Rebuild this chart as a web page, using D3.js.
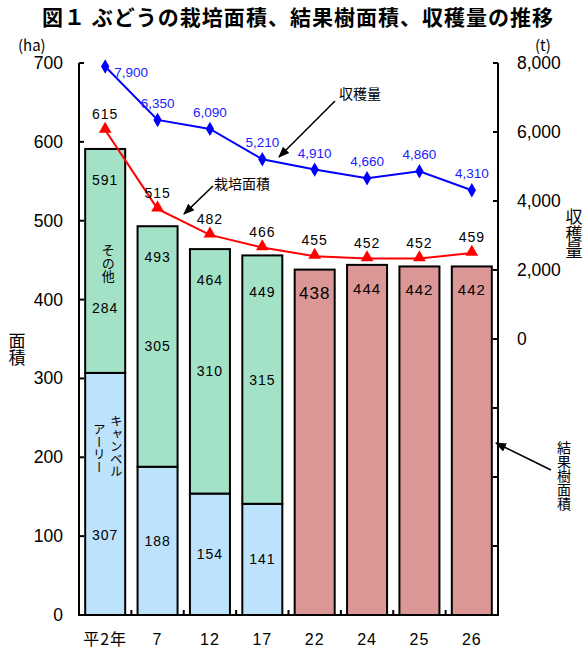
<!DOCTYPE html>
<html><head><meta charset="utf-8">
<script src="https://cdn.jsdelivr.net/npm/d3@7"></script>
<style>
body{margin:0;background:#fff;}
svg{display:block;}
text{font-family:"Liberation Sans",Arial,"Noto Sans CJK JP",sans-serif;}
.jp{font-family:"Noto Sans CJK JP",sans-serif;}
</style></head>
<body>
<script>
const categories = ["平2年","7","12","17","22","24","25","26"];
const campbell   = [307,188,154,141,null,null,null,null];
const others     = [284,305,310,315,null,null,null,null];
const totalStack = [591,493,464,449,null,null,null,null];
const bearing    = [null,null,null,null,438,444,442,442];
const cultivated = [615,515,482,466,455,452,452,459];
const harvest    = [7900,6350,6090,5210,4910,4660,4860,4310];
const leftTicks  = [0,100,200,300,400,500,600,700];
const rightTicks = [-6000,-4000,-2000,0,2000,4000,6000,8000];

const W=588,H=653;
const svg=d3.select("body").append("svg").attr("width",W).attr("height",H);
const L=79,R=498,T=63,B=615;
const x=d3.scaleBand().domain(categories).range([L,R]).paddingInner(0.236).paddingOuter(0.118);
const yL=d3.scaleLinear().domain([0,700]).range([B,T]);
const yR=d3.scaleLinear().domain([-8000,8000]).range([B,T]);
const cx=c=>x(c)+x.bandwidth()/2;

const cBlue="#BDE2FB",cGreen="#A3E2C6",cPink="#DB9796";

// title
svg.append("text").attr("class","jp").attr("x",42).attr("y",25).attr("text-anchor","start")
  .attr("font-size",21).attr("font-weight","bold").attr("textLength",511).attr("lengthAdjust","spacing")
  .text("図１  ぶどうの栽培面積、結果樹面積、収穫量の推移");

// bars
const g=svg.append("g");
categories.forEach((c,i)=>{
  if(campbell[i]!=null){
    g.append("rect").attr("x",x(c)).attr("width",x.bandwidth())
      .attr("y",yL(campbell[i])).attr("height",yL(0)-yL(campbell[i]))
      .attr("fill",cBlue).attr("stroke","#000").attr("stroke-width",2);
    g.append("rect").attr("x",x(c)).attr("width",x.bandwidth())
      .attr("y",yL(campbell[i]+others[i])).attr("height",yL(campbell[i])-yL(campbell[i]+others[i]))
      .attr("fill",cGreen).attr("stroke","#000").attr("stroke-width",2);
  } else {
    g.append("rect").attr("x",x(c)).attr("width",x.bandwidth())
      .attr("y",yL(bearing[i])).attr("height",yL(0)-yL(bearing[i]))
      .attr("fill",cPink).attr("stroke","#000").attr("stroke-width",2);
  }
});

// bar labels
const lab=(xx,yy,t,fs)=>svg.append("text").attr("x",xx).attr("y",yy).attr("text-anchor","middle")
  .attr("font-size",fs||14).attr("letter-spacing",1).text(t);
categories.forEach((c,i)=>{
  if(campbell[i]!=null){
    lab(cx(c),yL(totalStack[i])+36,totalStack[i]);
    if(i===0){
      lab(cx(c),yL(campbell[i]+others[i]*0.29)+5,others[i]);
      lab(cx(c),yL(campbell[i]*0.33)+5,campbell[i]);
    } else {
      lab(cx(c),yL(campbell[i]+others[i]/2)+5,others[i]);
      lab(cx(c),yL(campbell[i]/2)+5,campbell[i]);
    }
  } else {
    lab(cx(c),yL(bearing[i])+29,bearing[i],i===4?17:15);
  }
});
// vertical texts
const vtext=(xx,yy,t,fs)=>svg.append("text").attr("class","jp").attr("x",xx).attr("y",yy)
  .attr("font-size",fs).style("writing-mode","vertical-rl").style("text-orientation","upright").text(t);
vtext(cx(categories[0])+3,244,"その他",13);
vtext(cx(categories[0])+11,415,"キャンベル",12.5);
vtext(cx(categories[0])-6,423,"アーリー",12.5);

// axes
svg.append("line").attr("x1",L).attr("x2",L).attr("y1",T).attr("y2",B).attr("stroke","#000").attr("stroke-width",2);
svg.append("line").attr("x1",R).attr("x2",R).attr("y1",T).attr("y2",B).attr("stroke","#000").attr("stroke-width",2);
svg.append("line").attr("x1",L-1).attr("x2",R+1).attr("y1",B).attr("y2",B).attr("stroke","#000").attr("stroke-width",2);
leftTicks.forEach(v=>{
  svg.append("line").attr("x1",L).attr("x2",L+5).attr("y1",yL(v)).attr("y2",yL(v)).attr("stroke","#000").attr("stroke-width",2);
  svg.append("text").attr("x",63).attr("y",yL(v)+6).attr("text-anchor","end").attr("font-size",17.5).text(v);
});
rightTicks.forEach(v=>{
  svg.append("line").attr("x1",R-5).attr("x2",R).attr("y1",yR(v)).attr("y2",yR(v)).attr("stroke","#000").attr("stroke-width",2);
  if(v>=0) svg.append("text").attr("x",517).attr("y",yR(v)+6).attr("text-anchor","start").attr("font-size",17.5).text(d3.format(",")(v));
});
const step=x.step();
categories.slice(0,-1).forEach(c=>{
  const bx=x(c)+x.bandwidth()+(step-x.bandwidth())/2;
  svg.append("line").attr("x1",bx).attr("x2",bx).attr("y1",B).attr("y2",B-5).attr("stroke","#000").attr("stroke-width",2);
});
categories.forEach(c=>{
  svg.append("text").attr("class",c.length>2?"jp":null).attr("x",cx(c)).attr("y",645).attr("text-anchor","middle")
    .attr("font-size",16).attr("letter-spacing",1).text(c);
});

// axis titles
svg.append("text").attr("class","jp").attr("x",18).attr("y",51).attr("text-anchor","start").attr("font-size",15).text("(ha)");
svg.append("text").attr("class","jp").attr("x",535).attr("y",51).attr("text-anchor","start").attr("font-size",15).text("(t)");
vtext(17,332,"面積",17);
vtext(574,208,"収穫量",17);

// red line
const lineR=d3.line().x((d,i)=>cx(categories[i])).y(d=>yL(d));
svg.append("path").attr("d",lineR(cultivated)).attr("fill","none").attr("stroke","#FF0000").attr("stroke-width",2);
cultivated.forEach((v,i)=>{
  svg.append("path").attr("d",d3.symbol(d3.symbolTriangle,70)()).attr("transform",`translate(${cx(categories[i])},${yL(v)-1})`).attr("fill","#FF0000");
  svg.append("text").attr("x",cx(categories[i])).attr("y",yL(v)-11).attr("text-anchor","middle").attr("font-size",14).attr("letter-spacing",1).text(v);
});
// blue line
const lineB=d3.line().x((d,i)=>cx(categories[i])).y(d=>yR(d));
svg.append("path").attr("d",lineB(harvest)).attr("fill","none").attr("stroke","#0000FF").attr("stroke-width",2);
harvest.forEach((v,i)=>{
  svg.append("path").attr("d",d3.symbol(d3.symbolDiamond,60)()).attr("transform",`translate(${cx(categories[i])},${yR(v)})`).attr("fill","#0000FF");
  const t=svg.append("text").attr("fill","#2020FF").attr("font-size",13.5).text(d3.format(",")(v));
  if(i===0) t.attr("x",cx(categories[i])+9).attr("y",yR(v)+11).attr("text-anchor","start");
  else t.attr("x",cx(categories[i])).attr("y",yR(v)-12).attr("text-anchor","middle");
});

// annotations
const defs=svg.append("defs");
defs.append("marker").attr("id","ah").attr("viewBox","0 0 10 10").attr("refX",9).attr("refY",5)
  .attr("markerWidth",7).attr("markerHeight",7).attr("orient","auto")
  .append("path").attr("d","M0,1 L10,5 L0,9 Z").attr("fill","#000");
const arrow=(x1,y1,x2,y2)=>svg.append("line").attr("x1",x1).attr("y1",y1).attr("x2",x2).attr("y2",y2)
  .attr("stroke","#000").attr("stroke-width",1.6).attr("marker-end","url(#ah)");
svg.append("text").attr("class","jp").attr("x",339).attr("y",99).attr("font-size",14).text("収穫量");
arrow(335,101,279,157);
svg.append("text").attr("class","jp").attr("x",214).attr("y",189).attr("font-size",14).text("栽培面積");
arrow(213,186,184,214);
vtext(564,441,"結果樹面積",14);
arrow(551,470,496,443);
</script>
</body></html>
